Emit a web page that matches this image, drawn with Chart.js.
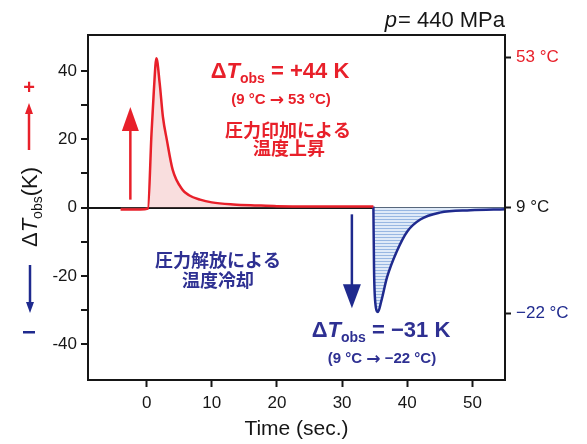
<!DOCTYPE html>
<html>
<head>
<meta charset="utf-8">
<script src="https://cdn.jsdelivr.net/npm/chart.js@4.4.1/dist/chart.umd.min.js"></script>
<style>
  body { margin: 0; background: #fff; }
</style>
</head>
<body>
<canvas id="chart" width="587" height="444"></canvas>
<script>
// values
const redTime = [-4, -1, 0.2, 0.75, 1.1, 1.5, 2.0, 2.5, 3.1, 4.0, 5.5, 6.5, 8.2, 10, 13.3, 17, 20, 25, 30, 34.8];
const redDT   = [-0.6, -0.6, -0.3, 21.8, 34, 43.7, 36.4, 26.5, 19.8, 11, 5.2, 3.6, 2.3, 1.5, 0.9, 0.6, 0.4, 0.3, 0.3, 0.3];
const blueTime = [34.8, 34.9, 35.1, 35.5, 36.0, 36.9, 38.4, 40, 42, 45, 49.7, 55];
const blueDT   = [0.3, -18, -28, -30.6, -27.5, -20.4, -12.8, -7, -3.5, -1.5, -0.8, -0.5];

const xTicks = [0, 10, 20, 30, 40, 50];
const yTicks = [-40, -30, -20, -10, 0, 10, 20, 30, 40];
const tempTicks = [-31, 0, 44];
const tempLabels = ['\u221222 \u00b0C', '9 \u00b0C', '53 \u00b0C'];

const RED = '#e8202a';
const NAVY = '#1f2a8e';
const BLUE_TXT = '#2e3092';
const INK = '#161616';
const FONT = '"Liberation Sans", Arial, sans-serif';
const ARROWFONT = '"DejaVu Sans", sans-serif';
const CJK = '"Noto Sans CJK JP", sans-serif';
const tempColors = [NAVY, INK, RED];

const canvas = document.getElementById('chart');
const ctx = canvas.getContext('2d');

function hatch() {
  const p = document.createElement('canvas');
  p.width = 4; p.height = 3;
  const g = p.getContext('2d');
  g.fillStyle = '#dfeaf8'; g.fillRect(0, 0, 4, 3);
  g.fillStyle = '#98b7e2'; g.fillRect(0, 0, 4, 1);
  return ctx.createPattern(p, 'repeat');
}

function rich(c, parts, cx, y) {
  let w = 0;
  parts.forEach(p => { c.font = p.font; w += c.measureText(p.text).width; });
  let x = cx - w / 2;
  parts.forEach(p => {
    c.font = p.font;
    c.fillText(p.text, x, y + (p.dy || 0));
    x += c.measureText(p.text).width;
  });
}

function arrow(c, x, y0, y1, color, lw, hw, hl) {
  const dir = y1 < y0 ? -1 : 1;
  c.save();
  c.strokeStyle = color; c.fillStyle = color; c.lineWidth = lw;
  c.beginPath(); c.moveTo(x, y0); c.lineTo(x, y1 - dir * hl * 0.8); c.stroke();
  c.beginPath();
  c.moveTo(x, y1);
  c.lineTo(x - hw / 2, y1 - dir * hl);
  c.lineTo(x + hw / 2, y1 - dir * hl);
  c.closePath(); c.fill();
  c.restore();
}

const decor = {
  id: 'decor',
  afterDraw(chart) {
    const c = chart.ctx;
    const a = chart.chartArea;
    const xs = chart.scales.x, ys = chart.scales.y;
    c.save();
    // frame
    c.strokeStyle = INK; c.lineWidth = 2;
    c.strokeRect(a.left, a.top, a.right - a.left, a.bottom - a.top);

    // pressure label
    c.fillStyle = INK; c.textBaseline = 'alphabetic'; c.textAlign = 'left';
    c.font = '22px ' + FONT;
    const rest = '= 440 MPa';
    const wr = c.measureText(rest).width;
    c.fillText(rest, a.right - wr, 27);
    c.font = 'italic 22px ' + FONT;
    c.fillText('p', a.right - wr - c.measureText('p').width - 1, 27);

    // y axis title
    c.save();
    c.translate(37, 207);
    c.rotate(-Math.PI / 2);
    c.fillStyle = INK;
    rich(c, [
      { text: '\u0394', font: '22px ' + FONT },
      { text: 'T', font: 'italic 22px ' + FONT },
      { text: 'obs', font: '14px ' + FONT, dy: 5 },
      { text: '(K)', font: '22px ' + FONT }
    ], 0, 0);
    c.restore();

    // left +/- markers
    c.textAlign = 'center'; c.textBaseline = 'middle';
    c.fillStyle = RED; c.font = 'bold 20px ' + FONT;
    c.fillText('+', 29, 88);
    arrow(c, 29, 150, 103, RED, 2.5, 8, 11);
    arrow(c, 30, 265, 313, NAVY, 2.5, 8, 11);
    c.fillStyle = NAVY;
    c.fillRect(23, 331, 12, 2.5);

    // arrows in the plot
    arrow(c, xs.getPixelForValue(-2.5), ys.getPixelForValue(2.3), ys.getPixelForValue(29.4), RED, 2.5, 17, 24);
    arrow(c, xs.getPixelForValue(31.5), ys.getPixelForValue(-2), ys.getPixelForValue(-29.5), NAVY, 2.5, 18, 24);

    // red annotation
    c.textAlign = 'left'; c.textBaseline = 'alphabetic';
    c.fillStyle = RED;
    rich(c, [
      { text: '\u0394', font: 'bold 22px ' + FONT },
      { text: 'T', font: 'italic bold 22px ' + FONT },
      { text: 'obs', font: 'bold 14px ' + FONT, dy: 5 },
      { text: ' = +44 K', font: 'bold 22px ' + FONT }
    ], 280, 78);
    rich(c, [
      { text: '(9 \u00b0C ', font: 'bold 15px ' + FONT },
      { text: '\u2192', font: 'bold 17px ' + ARROWFONT, dy: 1 },
      { text: ' 53 \u00b0C)', font: 'bold 15px ' + FONT }
    ], 281, 104);
    c.textBaseline = 'middle';
    rich(c, [{ text: '圧力印加による', font: 'bold 18px ' + CJK }], 288, 130);
    rich(c, [{ text: '温度上昇', font: 'bold 18px ' + CJK }], 289, 148);

    // blue annotation
    c.fillStyle = BLUE_TXT;
    rich(c, [{ text: '圧力解放による', font: 'bold 18px ' + CJK }], 218, 260);
    rich(c, [{ text: '温度冷却', font: 'bold 18px ' + CJK }], 218, 280);
    c.textBaseline = 'alphabetic';
    rich(c, [
      { text: '\u0394', font: 'bold 22px ' + FONT },
      { text: 'T', font: 'italic bold 22px ' + FONT },
      { text: 'obs', font: 'bold 14px ' + FONT, dy: 5 },
      { text: ' = \u221231 K', font: 'bold 22px ' + FONT }
    ], 381, 337);
    rich(c, [
      { text: '(9 \u00b0C ', font: 'bold 15px ' + FONT },
      { text: '\u2192', font: 'bold 17px ' + ARROWFONT, dy: 1 },
      { text: ' \u221222 \u00b0C)', font: 'bold 15px ' + FONT }
    ], 382, 363);
    c.restore();
  }
};

new Chart(ctx, {
  type: 'line',
  data: {
    datasets: [
      {
        data: redTime.map((t, i) => ({ x: t, y: redDT[i] })),
        borderColor: RED,
        borderWidth: 2.5,
        backgroundColor: 'rgba(238, 160, 160, 0.35)',
        fill: 'origin',
        pointRadius: 0,
        cubicInterpolationMode: 'monotone'
      },
      {
        data: blueTime.map((t, i) => ({ x: t, y: blueDT[i] })),
        borderColor: NAVY,
        borderWidth: 2.5,
        backgroundColor: hatch(),
        fill: 'origin',
        pointRadius: 0,
        cubicInterpolationMode: 'monotone'
      }
    ]
  },
  options: {
    responsive: false,
    animation: false,
    devicePixelRatio: 1,
    layout: { padding: { top: 35, left: 0, right: 0, bottom: 0 } },
    plugins: { legend: { display: false }, tooltip: { enabled: false } },
    scales: {
      x: {
        type: 'linear',
        min: -9,
        max: 55,
        afterBuildTicks: s => { s.ticks = xTicks.map(v => ({ value: v })); },
        afterFit: s => { s.height = 64; },
        border: { display: false },
        grid: { drawOnChartArea: false, tickLength: 7, tickWidth: 2, tickColor: INK },
        ticks: { color: INK, font: { size: 17, family: FONT }, padding: 6, maxRotation: 0, autoSkip: false },
        title: { display: true, text: 'Time (sec.)', color: INK, font: { size: 21, family: FONT }, padding: { top: 0, bottom: 2 } }
      },
      y: {
        min: -50.5,
        max: 50.5,
        afterBuildTicks: s => { s.ticks = yTicks.map(v => ({ value: v })); },
        afterFit: s => { s.width = 88; },
        border: { display: false },
        grid: {
          color: c => (c.tick && c.tick.value === 0 ? INK : 'rgba(0,0,0,0)'),
          lineWidth: 2,
          tickColor: INK,
          tickLength: 7,
          tickWidth: 2
        },
        ticks: {
          color: INK,
          font: { size: 17, family: FONT },
          padding: 4,
          callback: v => (v % 20 === 0 ? String(v) : '')
        }
      },
      y2: {
        position: 'right',
        min: -50.5,
        max: 50.5,
        afterBuildTicks: s => { s.ticks = tempTicks.map(v => ({ value: v })); },
        afterFit: s => { s.width = 82; },
        border: { display: false },
        grid: { drawOnChartArea: false, tickLength: 6, tickWidth: 2, tickColor: INK },
        ticks: {
          font: { size: 17, family: FONT },
          padding: 5,
          color: c => tempColors[tempTicks.indexOf(c.tick.value)],
          callback: v => tempLabels[tempTicks.indexOf(v)]
        }
      }
    }
  },
  plugins: [decor]
});
</script>
</body>
</html>
